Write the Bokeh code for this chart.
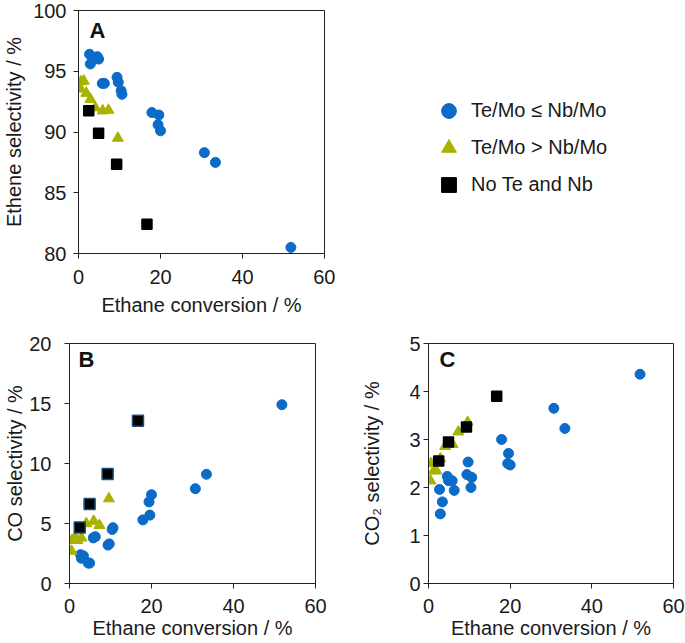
from bokeh.plotting import figure
from bokeh.layouts import column, row
from bokeh.models import Legend, LegendItem, Label, Range1d, FixedTicker
from bokeh.embed import file_html
from bokeh.resources import INLINE

# ---------------- data ----------------
# Te/Mo <= Nb/Mo (blue circles)
blue_conv = [2.7, 2.9, 3.4, 4.6, 4.9, 5.8, 6.3, 9.4, 9.7, 10.4, 10.6, 17.9, 19.6, 19.4, 20.0, 30.7, 33.4, 51.8]
blue_ethene = [96.4, 95.6, 96.1, 96.2, 96.0, 94.0, 94.0, 94.5, 94.1, 93.4, 93.1, 91.6, 91.4, 90.6, 90.1, 88.3, 87.5, 80.5]
blue_co = [2.4, 2.1, 2.3, 1.7, 1.7, 3.8, 3.9, 3.2, 3.3, 4.5, 4.65, 5.3, 5.7, 6.8, 7.4, 7.9, 9.1, 14.9]
blue_co2 = [1.96, 1.45, 1.70, 2.23, 2.14, 2.14, 1.94, 2.27, 2.53, 2.0, 2.21, 3.0, 2.71, 2.50, 2.47, 3.65, 3.23, 4.36]

# Te/Mo > Nb/Mo (olive triangles)
tri_conv = [0.6, 1.3, 0.5, 1.9, 2.9, 4.1, 5.9, 7.3, 9.6]
tri_ethene = [94.15, 94.2, 93.55, 93.2, 92.7, 92.0, 91.75, 91.8, 89.5]
tri_co = [3.6, 3.8, 2.7, 3.6, 3.8, 5.0, 5.2, 4.85, 7.07]
tri_co2 = [2.5, 2.35, 2.14, 2.35, 2.6, 2.86, 2.9, 3.16, 3.36]

# No Te and Nb (black squares)
sq_conv = [2.5, 4.9, 9.3, 16.7]
sq_ethene = [91.75, 89.9, 87.35, 82.4]
sq_co = [4.66, 6.63, 9.12, 13.56]
sq_co2 = [2.55, 2.95, 3.26, 3.90]

series_names = ["Te/Mo \u2264 Nb/Mo", "Te/Mo > Nb/Mo", "No Te and Nb"]
x_ticks = [0, 20, 40, 60]
yA_ticks = [80, 85, 90, 95, 100]
yB_ticks = [0, 5, 10, 15, 20]
yC_ticks = [0, 1, 2, 3, 4, 5]

BLUE = "#0B6BC9"
OLIVE = "#A9B200"
BLACK = "#000000"
FONT = "Liberation Sans"


def style(p, yticks, ylabel, xl_std, xa_std, yl_std, ya_std):
    p.x_range = Range1d(0, 60)
    p.y_range = Range1d(yticks[0], yticks[-1])
    p.xaxis.ticker = FixedTicker(ticks=x_ticks)
    p.yaxis.ticker = FixedTicker(ticks=yticks)
    p.xgrid.visible = False
    p.ygrid.visible = False
    p.outline_line_color = "#222222"
    p.outline_line_width = 1
    for ax in (p.xaxis[0], p.yaxis[0]):
        ax.major_label_text_font = FONT
        ax.major_label_text_font_size = "20px"
        ax.major_label_text_color = "#1a1a1a"
        ax.axis_label_text_font = FONT
        ax.axis_label_text_font_size = "20px"
        ax.axis_label_text_font_style = "normal"
        ax.axis_label_text_color = "#1a1a1a"
        ax.major_tick_in = 0
        ax.major_tick_out = 5
        ax.minor_tick_line_color = None
        ax.axis_line_color = "#222222"
        ax.major_tick_line_color = "#222222"
    p.xaxis.axis_label = "Ethane conversion / %"
    p.yaxis.axis_label = ylabel
    p.xaxis.major_label_standoff = xl_std
    p.xaxis.axis_label_standoff = xa_std
    p.yaxis.major_label_standoff = yl_std
    p.yaxis.axis_label_standoff = ya_std
    p.background_fill_color = None
    p.border_fill_color = None


def add_points(p, yb, yt, ys, square_edge):
    p.scatter(blue_conv, yb, marker="circle", size=10, fill_color=BLUE, line_color=BLUE)
    p.scatter(tri_conv, yt, marker="triangle", size=11, fill_color=OLIVE, line_color=OLIVE)
    p.scatter(sq_conv, ys, marker="square", size=10 if square_edge == BLACK else 11,
              fill_color=BLACK, line_color=square_edge, line_width=1.5)


def add_letter(p, letter, sx, sy):
    p.add_layout(Label(x=sx, y=sy, x_units="screen", y_units="screen", text=letter,
                       text_font=FONT, text_font_size="22px", text_font_style="bold",
                       text_baseline="top", text_align="left", text_color="#111111"))


# ---------------- panel A ----------------
pA = figure(width=335, height=331, output_backend="svg", toolbar_location=None,
            min_border_left=77, min_border_right=11, min_border_top=10, min_border_bottom=78)
style(pA, yA_ticks, "Ethene selectivity / %", 11, 7, 7, 5)
add_points(pA, blue_ethene, tri_ethene, sq_ethene, BLACK)
add_letter(pA, "A", 11, 236)

# ---------------- legend panel (same vertical borders as panel A) ----------------
pL = figure(width=350, height=331, output_backend="svg", toolbar_location=None,
            x_axis_location=None, y_axis_location=None,
            min_border_left=0, min_border_right=0, min_border_top=10, min_border_bottom=78)
pL.x_range = Range1d(0, 1)
pL.y_range = Range1d(0, 1)
pL.grid.visible = False
pL.outline_line_color = None
pL.background_fill_color = None
pL.border_fill_color = None
rl1 = pL.scatter([-5], [-5], marker="circle", size=15, fill_color=BLUE, line_color=BLUE)
rl2 = pL.scatter([-5], [-5], marker="triangle", size=15, fill_color=OLIVE, line_color=OLIVE)
rl3 = pL.scatter([-5], [-5], marker="square", size=14, fill_color=BLACK, line_color=BLACK)
legend = Legend(items=[LegendItem(label=series_names[0], renderers=[rl1]),
                       LegendItem(label=series_names[1], renderers=[rl2]),
                       LegendItem(label=series_names[2], renderers=[rl3])],
                location=(95, 50), orientation="vertical",
                glyph_width=37, glyph_height=37, label_standoff=4, spacing=0,
                padding=0, margin=0, border_line_color=None, background_fill_alpha=0,
                label_text_font=FONT, label_text_font_size="20px", label_text_color="#1a1a1a")
pL.add_layout(legend, "center")

# ---------------- panel B ----------------
pB = figure(width=348, height=312, output_backend="svg", toolbar_location=None,
            min_border_left=69, min_border_right=33, min_border_top=12, min_border_bottom=60)
style(pB, yB_ticks, "CO selectivity / %", 10, 1, 13, 0)
add_points(pB, blue_co, tri_co, sq_co, "#1F4E79")
add_letter(pB, "B", 9, 237)

# ---------------- panel C ----------------
pC = figure(width=337, height=312, output_backend="svg", toolbar_location=None,
            min_border_left=80, min_border_right=12, min_border_top=12, min_border_bottom=60)
style(pC, yC_ticks, "CO\u2082 selectivity / %", 10, 1, 3, 23)
add_points(pC, blue_co2, tri_co2, sq_co2, BLACK)
add_letter(pC, "C", 11, 237)

layout = column(row(pA, pL), row(pB, pC))
open("out.html", "w").write(file_html(layout, INLINE))
